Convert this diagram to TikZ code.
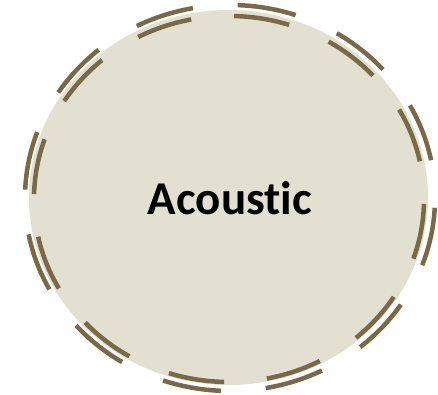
\documentclass[tikz,border=0pt]{standalone}
\usepackage{fontspec}
\setmainfont[Ligatures={NoCommon,NoRare}]{Carlito}
\usetikzlibrary{shapes.geometric}
\definecolor{TanFill}{RGB}{227, 224, 209}
\definecolor{TanRim}{RGB}{122, 105, 72}
\tikzset{
  disc/.style={ellipse, fill=TanFill, draw=none, inner sep=0pt,
    minimum width=399pt, minimum height=375pt},
  word/.style={font=\fontsize{47}{56}\selectfont\bfseries, inner sep=0pt},
  rim/.style={draw=TanRim, line width=4.5pt},
}
\begin{document}
\begin{tikzpicture}[x=1pt, y=1pt]
    \useasboundingbox (0,0) rectangle (438,395);
    % filled disc and its label
    \node[disc] (disc) at (228.5,197.5) {};
    \node[word, anchor=base] (acoustic) at (230,180) {Acoustic};
    % double dashed rim
    \coordinate (inner) at (229,196);
    \coordinate (outer) at (230,197);
    \draw[rim, dash pattern=on 56pt off 43pt, dash phase=61pt] (inner) ellipse [x radius=195pt, y radius=183pt];
    \draw[rim, dash pattern=on 59pt off 45pt, dash phase=66pt] (outer) ellipse [x radius=205pt, y radius=193pt];
\end{tikzpicture}
\end{document}
